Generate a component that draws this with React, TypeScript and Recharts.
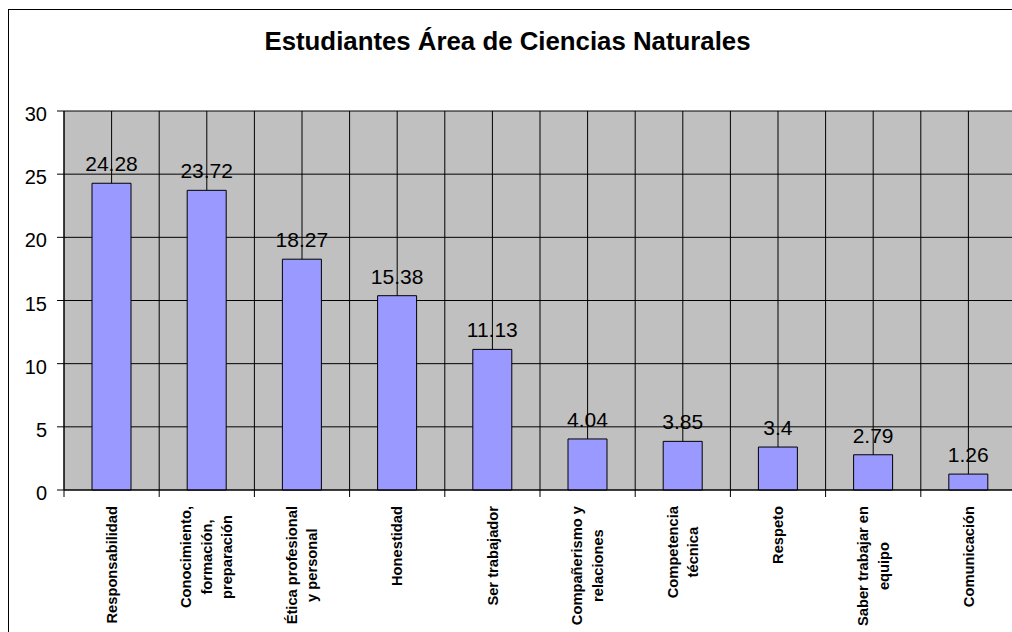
import React from 'react';
import { BarChart, Bar, XAxis, YAxis, CartesianGrid, LabelList } from 'recharts';

const categories = [
  'Responsabilidad',
  'Conocimiento, formación, preparación',
  'Ética profesional y personal',
  'Honestidad',
  'Ser trabajador',
  'Compañerismo y relaciones',
  'Competencia técnica',
  'Respeto',
  'Saber trabajar en equipo',
  'Comunicación',
];

// line breaks as they appear under the axis
const tickLabels = [
  ['Responsabilidad'],
  ['Conocimiento,', 'formación,', 'preparación'],
  ['Ética profesional', 'y personal'],
  ['Honestidad'],
  ['Ser trabajador'],
  ['Compañerismo y', 'relaciones'],
  ['Competencia', 'técnica'],
  ['Respeto'],
  ['Saber trabajar en', 'equipo'],
  ['Comunicación'],
];

const values = [24.28, 23.72, 18.27, 15.38, 11.13, 4.04, 3.85, 3.4, 2.79, 1.26];

const yTicks = [0, 5, 10, 15, 20, 25, 30];

const FONT = '"Liberation Sans", Arial, sans-serif';
const TICK_FONT_SIZE = 14.7;
const LINE_GAP = 20.5;

const data = categories.map((name, i) => ({ name, label: tickLabels[i], value: values[i] }));

let ctx: CanvasRenderingContext2D | null = null;
const measure = (s: string) => {
  if (!ctx) {
    ctx = document.createElement('canvas').getContext('2d');
    if (ctx) ctx.font = `bold ${TICK_FONT_SIZE}px ${FONT}`;
  }
  return ctx ? ctx.measureText(s).width : s.length * TICK_FONT_SIZE * 0.55;
};

const CategoryTick = (props: any) => {
  const { x, y, index, width, visibleTicksCount } = props;
  const lines: string[] = tickLabels[index] || [];
  const step = width / visibleTicksCount;
  const axisY = y - 16;
  const maxW = Math.max(...lines.map(measure));
  const cy = y + maxW / 2;
  const n = lines.length;
  return (
    <g>
      <line x1={x - step / 2} y1={axisY} x2={x - step / 2} y2={axisY + 7} stroke="#000" />
      {index === visibleTicksCount - 1 && (
        <line x1={x + step / 2} y1={axisY} x2={x + step / 2} y2={axisY + 7} stroke="#000" />
      )}
      {lines.map((ln, i) => {
        const cx = x + (i - (n - 1) / 2) * LINE_GAP + TICK_FONT_SIZE * 0.35;
        return (
          <text
            key={i}
            x={cx}
            y={cy}
            transform={`rotate(-90, ${cx}, ${cy})`}
            textAnchor="middle"
            fontFamily={FONT}
            fontWeight="bold"
            fontSize={TICK_FONT_SIZE}
            fill="#000"
          >
            {ln}
          </text>
        );
      })}
    </g>
  );
};

// grid lines at category edges and centres
const verticalLines = ({ offset }: any) => {
  const n = categories.length;
  const step = offset.width / n;
  const pts: number[] = [];
  for (let i = 0; i <= n * 2; i++) pts.push(offset.left + (i * step) / 2);
  return pts;
};

export default function App() {
  return (
    <div
      style={{
        position: 'absolute',
        left: 0,
        top: 0,
        width: 1012,
        height: 632,
        overflow: 'hidden',
        background: '#fff',
      }}
    >
      <div
        style={{
          position: 'absolute',
          left: 8,
          top: 9,
          width: 1100,
          height: 700,
          border: '1px solid #000',
        }}
      />
      <div
        style={{
          position: 'absolute',
          left: 0,
          top: 29,
          width: 1015,
          textAlign: 'center',
          fontFamily: FONT,
          fontWeight: 'bold',
          fontSize: 25.8,
          lineHeight: '25px',
          color: '#000',
        }}
      >
        Estudiantes Área de Ciencias Naturales
      </div>
      <div style={{ position: 'absolute', left: 0, top: 0 }}>
        <BarChart
          width={1026}
          height={632}
          data={data}
          margin={{ top: 111, right: 10, bottom: 0, left: 8 }}
          barSize={39}
        >
          <CartesianGrid
            fill="#C0C0C0"
            fillOpacity={1}
            stroke="#000"
            strokeWidth={1}
            horizontal
            vertical
            verticalCoordinatesGenerator={verticalLines}
          />
          <XAxis
            dataKey="name"
            height={142}
            interval={0}
            tickLine={false}
            tickSize={7}
            tickMargin={9}
            axisLine={{ stroke: '#000' }}
            tick={<CategoryTick />}
          />
          <YAxis
            width={56}
            domain={[0, 30]}
            ticks={yTicks}
            interval={0}
            tickSize={7}
            tickMargin={10}
            axisLine={{ stroke: '#000' }}
            tickLine={{ stroke: '#000' }}
            tick={{ fill: '#000', fontSize: 20, fontFamily: FONT, dy: 3 }}
          />
          <Bar dataKey="value" fill="#9999FF" stroke="#000" strokeWidth={1} isAnimationActive={false}>
            <LabelList
              dataKey="value"
              position="top"
              offset={12}
              fill="#000"
              fontSize={21}
              fontFamily={FONT}
            />
          </Bar>
        </BarChart>
      </div>
    </div>
  );
}
